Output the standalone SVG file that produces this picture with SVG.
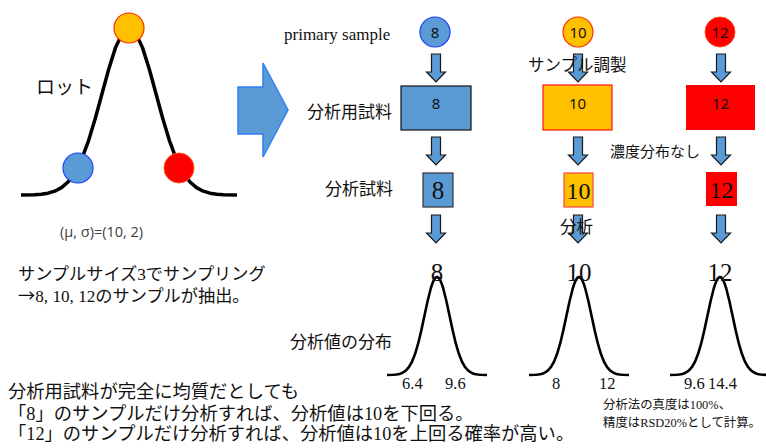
<svg xmlns="http://www.w3.org/2000/svg" xmlns:xlink="http://www.w3.org/1999/xlink" width="766" height="448" viewBox="0 0 766 448">
<style>
.jp{font-family:"Liberation Serif","Noto Sans CJK JP",serif;fill:#111}
.sans{font-family:"Noto Sans","Liberation Sans",sans-serif;fill:#111}
.serif{font-family:"Liberation Serif",serif;fill:#111}
.cjk{font-family:"Noto Sans CJK JP",sans-serif}
.darr{fill:#5B9BD5;stroke:#1a1a1a;stroke-width:1.2}
.curve{fill:none;stroke:#000;stroke-width:2.6;stroke-linejoin:round}
.orange{fill:#FFC000;stroke:#FF2A00;stroke-width:1.2}
</style>
<defs>
<path id="darr" d="M-4.5,0 H4.5 V18 H9.5 L0,28 L-9.5,18 H-4.5 Z"/>
<path id="gauss" d="M-50,0 L-43.75,-0.22 -40.63,-0.5 -37.5,-1.09 -34.38,-2.23 -31.25,-4.3 -28.13,-7.8 -25,-13.26 -21.88,-21.2 -18.75,-31.82 -15.63,-44.86 -12.5,-59.44 -9.38,-73.97 -6.25,-86.49 -4.69,-91.35 -3.13,-94.98 -1.56,-97.24 0,-98 1.56,-97.24 3.13,-94.98 4.69,-91.35 6.25,-86.49 9.38,-73.97 12.5,-59.44 15.63,-44.86 18.75,-31.82 21.88,-21.2 25,-13.26 28.13,-7.8 31.25,-4.3 34.38,-2.23 37.5,-1.09 40.63,-0.5 43.75,-0.22 50,0"/>
</defs>

<!-- Lot distribution -->
<g id="lot">
<path d="M21,195 L34.5,194.63 41.25,194.15 48,193.15 54.75,191.19 61.5,187.67 68.25,181.71 75,172.4 81.75,158.88 88.5,140.78 95.25,118.55 102,93.71 108.75,68.95 115.5,47.62 122.25,33.14 129,28 135.75,33.14 142.5,47.62 149.25,68.95 156,93.71 162.75,118.55 169.5,140.78 176.25,158.88 183,172.4 189.75,181.71 196.5,187.67 203.25,191.19 210,193.15 216.75,194.15 223.5,194.63 237,195" fill="none" stroke="#000" stroke-width="3.5" stroke-linejoin="round"/>
<circle cx="129" cy="28" r="15" class="orange"/>
<circle cx="78" cy="168" r="15" fill="#5B9BD5" stroke="#1a3cff" stroke-width="1.2"/>
<circle cx="179" cy="168" r="15" fill="#FF0000" stroke="#ff4a1a" stroke-width="1"/>
<text x="36" y="94" class="cjk" font-size="19" fill="#111">ロット</text>
<text x="60" y="237" font-family="'Open Sans','Noto Sans',sans-serif" font-size="14.5" fill="#404040">(μ, σ)=(10, 2)</text>
</g>

<g id="big-arrow">
<path d="M238,87 H263 V63 L288,110 L263,157 V134 H238 Z" fill="#5B9BD5" stroke="#2f7ff5" stroke-width="1.5"/>
</g>

<!-- Row labels -->
<g id="labels">
<text x="284" y="40" class="serif" font-size="17">primary sample</text>
<text x="307" y="118" class="jp" font-size="17">分析用試料</text>
<text x="325" y="195" class="jp" font-size="17">分析試料</text>
<text x="290" y="348" class="jp" font-size="17">分析値の分布</text>
</g>

<!-- Connectors (block arrows) -->
<g id="connectors" class="darr">
<use xlink:href="#darr" href="#darr" x="436" y="54"/>
<use xlink:href="#darr" href="#darr" x="436" y="137"/>
<use xlink:href="#darr" href="#darr" x="436" y="215"/>
<use xlink:href="#darr" href="#darr" x="578" y="54"/>
<use xlink:href="#darr" href="#darr" x="578" y="137"/>
<use xlink:href="#darr" href="#darr" x="578" y="215"/>
<use xlink:href="#darr" href="#darr" x="721" y="54"/>
<use xlink:href="#darr" href="#darr" x="721" y="137"/>
<use xlink:href="#darr" href="#darr" x="721" y="215"/>
</g>

<!-- Column 8 -->
<g id="sample8">
<circle cx="435" cy="32" r="15" fill="#5B9BD5" stroke="#1a3cff" stroke-width="1.2"/>
<text x="435" y="37.5" class="sans" font-size="15" text-anchor="middle">8</text>
</g>
<g id="test8">
<rect x="401" y="86" width="70" height="44" fill="#5B9BD5" stroke="#111" stroke-width="1.2"/>
<text x="436" y="109" class="sans" font-size="15" text-anchor="middle">8</text>
</g>
<g id="portion8">
<rect x="423" y="173" width="30" height="34" fill="#5B9BD5" stroke="#333" stroke-width="1.2"/>
<text x="438" y="199" class="serif" font-size="25" text-anchor="middle">8</text>
</g>
<g id="dist8">
<use xlink:href="#gauss" href="#gauss" transform="translate(437,375)" class="curve"/>
<text x="437" y="281" class="serif" font-size="25" text-anchor="middle">8</text>
<text x="402" y="389" class="serif" font-size="16.5">6.4</text>
<text x="445" y="389" class="serif" font-size="16.5">9.6</text>
</g>

<!-- Column 10 -->
<g id="sample10">
<circle cx="578" cy="32" r="15" class="orange"/>
<text x="578" y="37.5" class="sans" font-size="15" text-anchor="middle">10</text>
</g>
<g id="test10">
<rect x="543" y="85" width="69" height="45" fill="#FFC000" stroke="#FF1010" stroke-width="1.2"/>
<text x="577.5" y="109" class="sans" font-size="15" text-anchor="middle">10</text>
</g>
<g id="portion10">
<rect x="564" y="173" width="29" height="34" fill="#FFC000" stroke="#FF4040" stroke-width="1.2"/>
<text x="578.5" y="199" class="serif" font-size="24" text-anchor="middle">10</text>
</g>
<g id="dist10">
<use xlink:href="#gauss" href="#gauss" transform="translate(579,375)" class="curve"/>
<text x="579" y="281" class="serif" font-size="25" text-anchor="middle">10</text>
<text x="552" y="389" class="serif" font-size="16.5">8</text>
<text x="599" y="389" class="serif" font-size="16.5">12</text>
</g>

<!-- Column 12 -->
<g id="sample12">
<circle cx="720" cy="32" r="15" fill="#FF0000" stroke="#ff4a1a" stroke-width="1"/>
<text x="720" y="37.5" class="sans" font-size="15" text-anchor="middle">12</text>
</g>
<g id="test12">
<rect x="686" y="85" width="69" height="45" fill="#FF0000"/>
<text x="720.5" y="109" class="sans" font-size="15" text-anchor="middle">12</text>
</g>
<g id="portion12">
<rect x="706" y="172" width="31" height="34" fill="#FF0000"/>
<text x="721.5" y="198" class="serif" font-size="24" text-anchor="middle">12</text>
</g>
<g id="dist12">
<use xlink:href="#gauss" href="#gauss" transform="translate(720,375)" class="curve"/>
<text x="720" y="281" class="serif" font-size="25" text-anchor="middle">12</text>
<text x="684" y="389" class="serif" font-size="16.5">9.6</text>
<text x="708" y="389" class="serif" font-size="16.5">14.4</text>
</g>

<!-- Step annotations -->
<g id="annotations">
<text x="528" y="71" class="jp" font-size="16.5">サンプル調製</text>
<text x="610" y="157" class="jp" font-size="15">濃度分布なし</text>
<text x="560" y="233" class="jp" font-size="16.5">分析</text>
</g>

<!-- Notes -->
<g id="notes">
<text x="18" y="280" class="jp" font-size="17.2">サンプルサイズ3でサンプリング</text>
<text x="18" y="302" class="jp" font-size="17.2"><tspan class="cjk">→</tspan>8, 10, 12のサンプルが抽出。</text>
<text x="8" y="398" class="jp" font-size="18.3">分析用試料が完全に均質だとしても</text>
<text x="8" y="420" class="jp" font-size="18.3">「8」のサンプルだけ分析すれば、分析値は10を下回る。</text>
<text x="8" y="440" class="jp" font-size="18.3">「12」のサンプルだけ分析すれば、分析値は10を上回る確率が高い。</text>
<text x="603" y="409" class="jp" font-size="12.4">分析法の真度は100%、</text>
<text x="603" y="427" class="jp" font-size="12.4">精度はRSD20%として計算。</text>
</g>
</svg>
